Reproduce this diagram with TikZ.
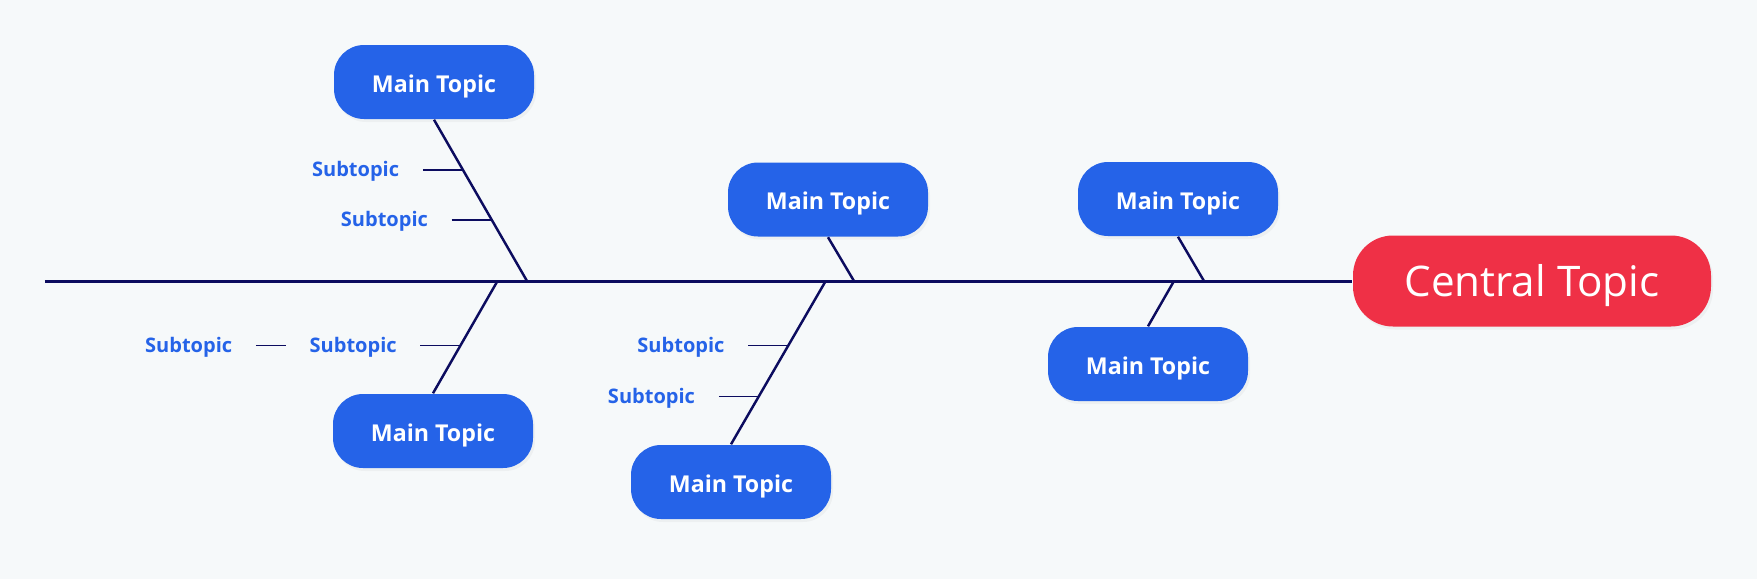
\documentclass[tikz,border=0pt]{standalone}
\usepackage{fontspec}
\setmainfont{Open Sans}
\usetikzlibrary{positioning,calc,shadows}
\definecolor{topicblue}{RGB}{37,99,232}
\definecolor{centralred}{RGB}{239,48,70}
\definecolor{bonenavy}{RGB}{12,12,95}
\definecolor{paper}{RGB}{246,249,250}
\tikzset{
  maintopic/.style={fill=topicblue, text=white, rounded corners=0.3cm, inner sep=0pt,
              minimum width=2cm, minimum height=0.74cm, font=\fontsize{6.6}{8}\selectfont\bfseries,
              text height=5.9pt, text depth=0pt,
              drop shadow={opacity=0.07, shadow xshift=0.02cm, shadow yshift=-0.03cm}},
  central/.style={fill=centralred, text=white, rounded corners=0.4cm, inner sep=0pt,
              minimum width=3.58cm, minimum height=0.91cm, font=\fontsize{12}{14}\selectfont,
              text height=8.6pt, text depth=0pt,
              drop shadow={opacity=0.07, shadow xshift=0.02cm, shadow yshift=-0.03cm}},
  subtopic/.style={text=topicblue, inner xsep=0.23cm, inner ysep=1pt,
              text height=4pt, text depth=0pt, font=\fontsize{5.7}{7}\selectfont\bfseries},
  spine/.style={bonenavy, line width=0.85pt},
  bone/.style={bonenavy, line width=0.7pt},
  twig/.style={bonenavy, line width=0.45pt},
}

\begin{document}
\begin{tikzpicture}
    \fill[paper] (0,2.81) rectangle (17.57,-2.98);
    \useasboundingbox (0,2.81) rectangle (17.57,-2.98);
    \node[central] (ct) at (15.32,0) {Central Topic};
    \node[maintopic] (tl) at (4.34,1.99)  {Main Topic};
    \node[maintopic] (bl) at (4.33,-1.50) {Main Topic};
    \node[maintopic] (mt) at (8.28,0.815) {Main Topic};
    \node[maintopic] (mb) at (7.31,-2.01) {Main Topic};
    \node[maintopic] (rt) at (11.78,0.82) {Main Topic};
    \node[maintopic] (rb) at (11.48,-0.83) {Main Topic};
    % where the bones meet the spine
    \coordinate (tail) at (0.45,0);
    \coordinate (j1) at (5.27,0);
    \coordinate (j2) at (4.975,0);
    \coordinate (j3) at (8.54,0);
    \coordinate (j4) at (8.257,0);
    \coordinate (j5) at (12.04,0);
    \coordinate (j6) at (11.74,0);
    \draw[spine] (tail) -- (ct);
    \draw[bone] (tl.south) -- (j1);
    \draw[bone] (j2) -- (bl.north);
    \draw[bone] (mt.south) -- (j3);
    \draw[bone] (j4) -- (mb.north);
    \draw[bone] (rt.south) -- (j5);
    \draw[bone] (j6) -- (rb.north);
    % subtopics
    \coordinate (b1) at ($(tl.south)!0.31!(j1)$);
    \coordinate (b2) at ($(tl.south)!0.62!(j1)$);
    \coordinate (b3) at ($(j2)!0.575!(bl.north)$);
    \coordinate (b5) at ($(j4)!0.396!(mb.north)$);
    \coordinate (b6) at ($(j4)!0.707!(mb.north)$);
    \node[subtopic, left=0.4cm of b1] (s1) {Subtopic};
    \node[subtopic, left=0.4cm of b2] (s2) {Subtopic};
    \node[subtopic, left=0.4cm of b3] (s3) {Subtopic};
    \node[subtopic, left=0.3cm of s3] (s4) {Subtopic};
    \node[subtopic, left=0.4cm of b5] (s5) {Subtopic};
    \node[subtopic, left=0.4cm of b6] (s6) {Subtopic};
    \draw[twig] (s1) -- (b1);
    \draw[twig] (s2) -- (b2);
    \draw[twig] (s3) -- (b3);
    \draw[twig] (s4) -- (s3);
    \draw[twig] (s5) -- (b5);
    \draw[twig] (s6) -- (b6);
\end{tikzpicture}
\end{document}
